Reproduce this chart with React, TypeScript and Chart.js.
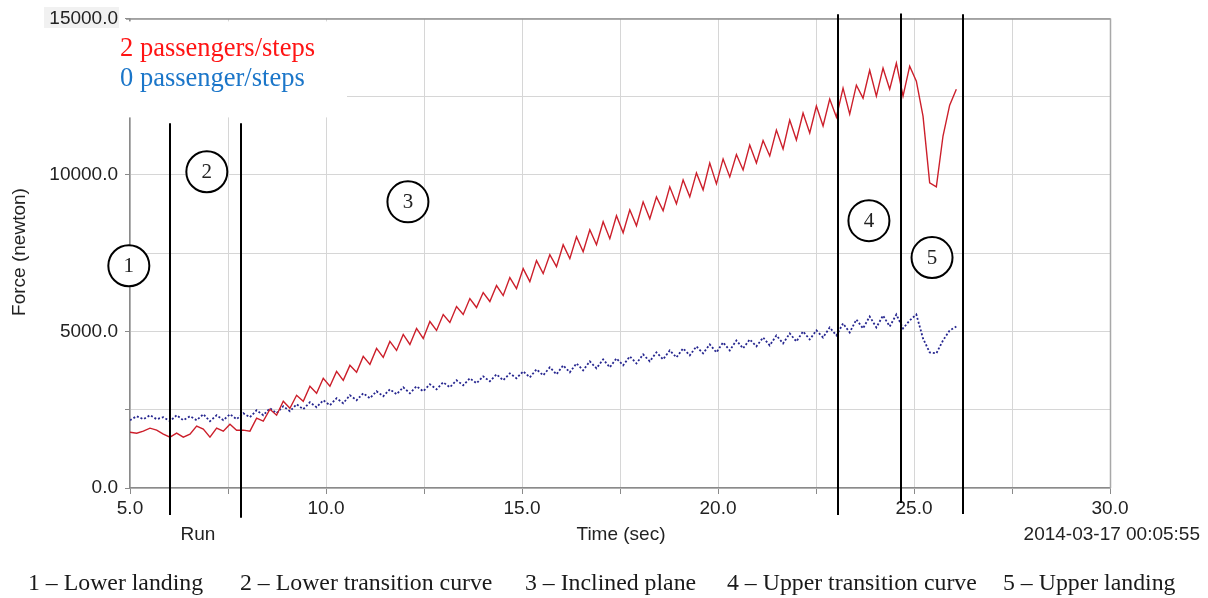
import React, { useEffect, useRef } from 'react';
import { Chart, registerables } from 'chart.js';

Chart.register(...registerables);

// Sampling instants (seconds)
const TIME_S = [
  5.00, 5.17, 5.34, 5.51, 5.68, 5.85, 6.02, 6.19, 6.36, 6.53,
  6.70, 6.87, 7.04, 7.21, 7.38, 7.55, 7.72, 7.89, 8.06, 8.23,
  8.40, 8.57, 8.74, 8.91, 9.08, 9.25, 9.42, 9.59, 9.76, 9.93,
  10.10, 10.27, 10.44, 10.61, 10.78, 10.95, 11.12, 11.29, 11.46, 11.63,
  11.80, 11.97, 12.14, 12.31, 12.48, 12.65, 12.82, 12.99, 13.16, 13.33,
  13.50, 13.67, 13.84, 14.01, 14.18, 14.35, 14.52, 14.69, 14.86, 15.03,
  15.20, 15.37, 15.54, 15.71, 15.88, 16.05, 16.22, 16.39, 16.56, 16.73,
  16.90, 17.07, 17.24, 17.41, 17.58, 17.75, 17.92, 18.09, 18.26, 18.43,
  18.60, 18.77, 18.94, 19.11, 19.28, 19.45, 19.62, 19.79, 19.96, 20.13,
  20.30, 20.47, 20.64, 20.81, 20.98, 21.15, 21.32, 21.49, 21.66, 21.83,
  22.00, 22.17, 22.34, 22.51, 22.68, 22.85, 23.02, 23.19, 23.36, 23.53,
  23.70, 23.87, 24.04, 24.21, 24.38, 24.55, 24.72, 24.89, 25.06, 25.23,
  25.40, 25.57, 25.74, 25.91, 26.08,
];

// Force with 2 passengers per step (newton)
const LOADED_N = [
  1780, 1750, 1815, 1911, 1847, 1720, 1624, 1752, 1624, 1720,
  1975, 1879, 1624, 1911, 1815, 2038, 1847, 1847, 1815, 2230,
  2134, 2516, 2325, 2771, 2548, 2962, 2771, 3249, 3026, 3504,
  3249, 3726, 3440, 3918, 3695, 4204, 3949, 4459, 4172, 4682,
  4395, 4905, 4586, 5096, 4778, 5319, 5032, 5542, 5287, 5797,
  5542, 6052, 5765, 6243, 5956, 6466, 6147, 6720, 6370, 7007,
  6593, 7262, 6848, 7450, 7071, 7771, 7326, 8026, 7548, 8249,
  7771, 8504, 7963, 8695, 8154, 8886, 8377, 9141, 8600, 9300,
  8854, 9619, 9077, 9842, 9300, 10065, 9523, 10380, 9714, 10511,
  9937, 10650, 10160, 10956, 10383, 11100, 10606, 11434, 10829, 11750,
  11116, 11976, 11339, 12199, 11562, 12422, 11848, 12772, 11944, 12867,
  12453, 13345, 12517, 13409, 12740, 13568, 12517, 13473, 12995, 11880,
  9746, 9619, 11243, 12230, 12740,
];

// Force with 0 passengers per step (newton)
const EMPTY_N = [
  2166, 2293, 2198, 2325, 2198, 2261, 2134, 2325, 2166, 2293,
  2166, 2357, 2134, 2325, 2166, 2357, 2198, 2389, 2261, 2484,
  2325, 2548, 2389, 2612, 2452, 2675, 2516, 2739, 2580, 2803,
  2644, 2867, 2707, 2962, 2803, 3026, 2867, 3089, 2930, 3153,
  2994, 3217, 3026, 3249, 3089, 3312, 3153, 3376, 3217, 3440,
  3281, 3504, 3344, 3567, 3408, 3631, 3440, 3663, 3504, 3726,
  3535, 3790, 3599, 3854, 3631, 3918, 3695, 3981, 3758, 4045,
  3822, 4109, 3854, 4141, 3918, 4204, 3981, 4268, 4045, 4332,
  4109, 4395, 4172, 4459, 4236, 4523, 4300, 4586, 4332, 4650,
  4395, 4714, 4459, 4746, 4523, 4809, 4555, 4873, 4618, 4937,
  4682, 5000, 4746, 5032, 4809, 5128, 4873, 5255, 4969, 5383,
  5096, 5478, 5128, 5510, 5160, 5542, 5096, 5351, 5542, 4778,
  4332, 4300, 4714, 5032, 5160,
];

const SERIES_NAMES = ['2 passengers/steps', '0 passenger/steps'];

// Section boundaries (seconds) and section labels
const SECTION_BOUNDS_S = [6.02, 7.83, 23.06, 24.67, 26.25];
const SECTION_LABELS = ['1', '2', '3', '4', '5'];
const SECTION_NAMES = [
  '1 \u2013 Lower landing',
  '2 \u2013 Lower transition curve',
  '3 \u2013 Inclined plane',
  '4 \u2013 Upper transition curve',
  '5 \u2013 Upper landing',
];

const SANS = '"Liberation Sans", Arial, sans-serif';
const SERIF = '"Liberation Serif", "Times New Roman", serif';

// annotation geometry (data units)
const BOUND_EXTENTS = [
  [-860, 11650],
  [-950, 11650],
  [-860, 15130],
  [-480, 15160],
  [-830, 15130],
];
const LABEL_POS = [
  [4.97, 7100],
  [6.96, 10100],
  [12.09, 9140],
  [23.85, 8540],
  [25.46, 7360],
];
const CAPTION_X = [28, 240, 525, 727, 1003];

const overlayPlugin = {
  id: 'overlay',
  beforeDraw(chart: any) {
    const { ctx } = chart;
    ctx.save();
    ctx.fillStyle = '#f1f1f1';
    ctx.fillRect(44, 7, 75, 21);
    ctx.restore();
  },
  afterDraw(chart: any) {
    const { ctx, chartArea } = chart;
    const xs = chart.scales.x;
    const ys = chart.scales.y;
    ctx.save();

    // frame top / right
    ctx.strokeStyle = '#8f8f8f';
    ctx.lineWidth = 1.5;
    ctx.beginPath();
    ctx.moveTo(chartArea.left - 4, chartArea.top + 0.5);
    ctx.lineTo(chartArea.right + 0.5, chartArea.top + 0.5);
    ctx.stroke();
    ctx.strokeStyle = '#a8a8a8';
    ctx.beginPath();
    ctx.moveTo(chartArea.right + 0.5, chartArea.top);
    ctx.lineTo(chartArea.right + 0.5, chartArea.bottom);
    ctx.stroke();

    // white legend box
    ctx.fillStyle = '#ffffff';
    ctx.fillRect(chartArea.left - 11, chartArea.top + 3, 228, 96);
    ctx.font = '26.5px ' + SERIF;
    ctx.textAlign = 'left';
    ctx.textBaseline = 'alphabetic';
    ctx.fillStyle = '#ff1414';
    ctx.fillText(SERIES_NAMES[0], chartArea.left - 10, 56);
    ctx.fillStyle = '#1b76c9';
    ctx.fillText(SERIES_NAMES[1], chartArea.left - 10, 86);

    // section boundary lines
    ctx.strokeStyle = '#000000';
    ctx.lineWidth = 2;
    SECTION_BOUNDS_S.forEach((t, i) => {
      const x = Math.round(xs.getPixelForValue(t));
      ctx.beginPath();
      ctx.moveTo(x, ys.getPixelForValue(BOUND_EXTENTS[i][1]));
      ctx.lineTo(x, ys.getPixelForValue(BOUND_EXTENTS[i][0]));
      ctx.stroke();
    });

    // circled section numbers
    ctx.font = '21px ' + SERIF;
    ctx.textAlign = 'center';
    ctx.textBaseline = 'middle';
    SECTION_LABELS.forEach((lab, i) => {
      const cx = xs.getPixelForValue(LABEL_POS[i][0]);
      const cy = ys.getPixelForValue(LABEL_POS[i][1]);
      ctx.fillStyle = '#ffffff';
      ctx.beginPath();
      ctx.arc(cx, cy, 20.5, 0, Math.PI * 2);
      ctx.fill();
      ctx.strokeStyle = '#000';
      ctx.lineWidth = 2;
      ctx.stroke();
      ctx.fillStyle = '#222';
      ctx.fillText(lab, cx, cy + 1);
    });

    // axis texts
    ctx.fillStyle = '#222';
    ctx.font = '19px ' + SANS;
    ctx.textBaseline = 'alphabetic';
    ctx.textAlign = 'center';
    ctx.fillText('Run', 198, 540);
    ctx.fillText('Time (sec)', 621, 540);
    ctx.textAlign = 'right';
    ctx.fillText('2014-03-17 00:05:55', 1200, 540);
    ctx.save();
    ctx.translate(20, 252);
    ctx.rotate(-Math.PI / 2);
    ctx.textAlign = 'center';
    ctx.textBaseline = 'middle';
    ctx.fillText('Force (newton)', 0, 0);
    ctx.restore();

    // caption
    ctx.font = '23.8px ' + SERIF;
    ctx.textAlign = 'left';
    ctx.textBaseline = 'alphabetic';
    ctx.fillStyle = '#1a1a1a';
    SECTION_NAMES.forEach((name, i) => {
      ctx.fillText(name, CAPTION_X[i], 590);
    });

    ctx.restore();
  },
};

export default function App() {
  const ref = useRef<HTMLCanvasElement | null>(null);

  useEffect(() => {
    if (!ref.current) return;
    const chart = new Chart(ref.current, {
      type: 'line',
      data: {
        datasets: [
          {
            label: SERIES_NAMES[0],
            data: TIME_S.map((t, i) => ({ x: t, y: LOADED_N[i] })),
            borderColor: '#cc1f2b',
            borderWidth: 1.4,
            pointRadius: 0,
            tension: 0,
            fill: false,
          },
          {
            label: SERIES_NAMES[1],
            data: TIME_S.map((t, i) => ({ x: t, y: EMPTY_N[i] })),
            borderColor: '#26268f',
            borderWidth: 1.8,
            borderDash: [2, 2],
            pointRadius: 0,
            tension: 0,
            fill: false,
          },
        ],
      },
      options: {
        animation: false,
        responsive: false,
        devicePixelRatio: 1,
        layout: { padding: { top: 16, right: 98, left: 0, bottom: 0 } },
        plugins: { legend: { display: false }, tooltip: { enabled: false } },
        scales: {
          x: {
            type: 'linear',
            min: 5,
            max: 30,
            afterFit: (s: any) => {
              s.height = 110;
            },
            ticks: {
              stepSize: 2.5,
              autoSkip: false,
              maxRotation: 0,
              padding: 3,
              color: '#222',
              font: { size: 19, family: SANS },
              callback: (v: any) => (Number(v) % 5 === 0 ? Number(v).toFixed(1) : ''),
            },
            grid: { color: '#d6d6d6', tickColor: '#8a8a8a', tickLength: 6 },
            border: { color: '#8a8a8a', width: 1.5 },
          },
          y: {
            min: 0,
            max: 15000,
            afterFit: (s: any) => {
              s.width = 130;
            },
            ticks: {
              stepSize: 2500,
              autoSkip: false,
              padding: 7,
              color: '#222',
              font: { size: 19, family: SANS },
              callback: (v: any) => (Number(v) % 5000 === 0 ? Number(v).toFixed(1) : ''),
            },
            grid: { color: '#d6d6d6', tickColor: '#8a8a8a', tickLength: 5 },
            border: { color: '#8a8a8a', width: 1.5 },
          },
        },
      },
      plugins: [overlayPlugin],
    });
    return () => chart.destroy();
  }, []);

  return (
    <div style={{ position: 'absolute', left: 0, top: 0, width: 1208, height: 598, background: '#fff' }}>
      <canvas ref={ref} width={1208} height={598} style={{ display: 'block' }} />
    </div>
  );
}
